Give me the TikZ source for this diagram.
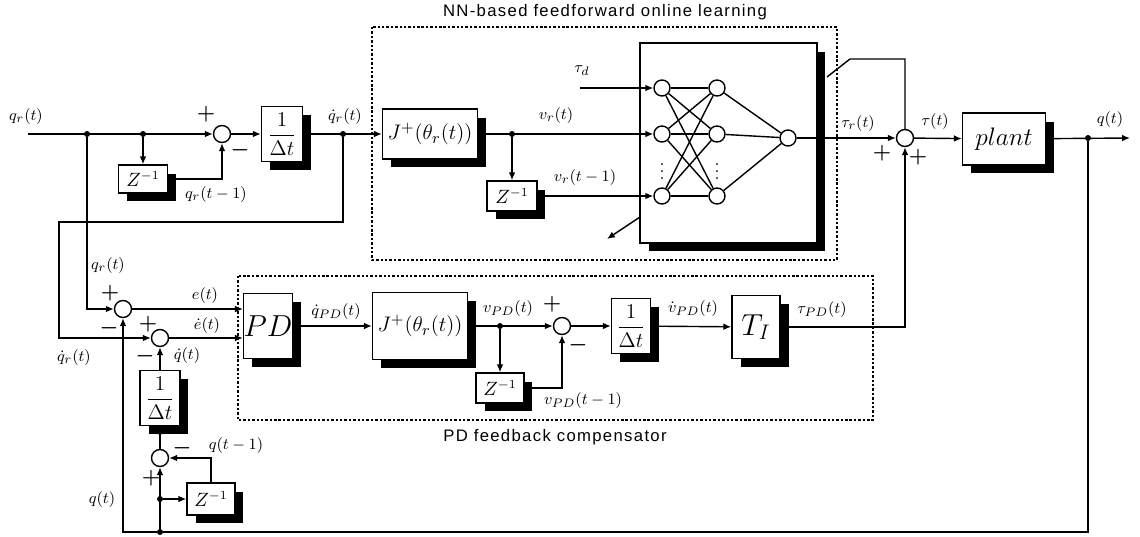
\documentclass[tikz,border=0pt]{standalone}
\usepackage{fontspec}
\newfontfamily\lblsans[LetterSpace=8]{Liberation Sans}
\usetikzlibrary{arrows.meta,shadows,calc}
\tikzset{
  blk/.style={draw, fill=white, line width=0.8pt, inner sep=0pt,
    drop shadow={shadow xshift=0.17cm, shadow yshift=-0.17cm, opacity=1, fill=black}},
  sumn/.style={draw, circle, fill=white, line width=0.8pt, minimum size=0.34cm, inner sep=0pt},
  neur/.style={draw, circle, fill=white, line width=0.8pt, minimum size=0.32cm, inner sep=0pt},
  jdot/.style={circle, fill=black, inner sep=0pt, minimum size=0.12cm},
  sig/.style={line width=0.8pt},
  arr/.style={sig, -{Latex[length=4.5pt,width=3.8pt]}},
  dbox/.style={line width=1.6pt, dash pattern=on 1.4pt off 1.1pt},
  lbl/.style={font=\fontsize{9.5}{11}\selectfont, inner sep=0pt},
  pm/.style={font=\fontsize{12}{12}\selectfont\boldmath, inner sep=0pt},
  ttl/.style={font=\fontsize{9.5}{11}\selectfont\lblsans, inner sep=0pt},
  zf/.style={font=\fontsize{10.5}{12}\selectfont},
  ff/.style={font=\fontsize{11.5}{13}\selectfont},
  jf/.style={font=\fontsize{12.5}{14}\selectfont},
}
\begin{document}
\begin{tikzpicture}[x=0.02cm,y=-0.02cm]
\useasboundingbox (0,0) rectangle (1140,537);

% dotted group boxes
\draw[dbox] (372,27) rectangle (837,260);
\draw[dbox] (238,276) rectangle (873,420);
\node[ttl] (ttlNN) at (605,12) {NN-based feedforward online learning};
\node[ttl] (ttlPD) at (555,437) {PD feedback compensator};

% ---------- top row ----------
\coordinate (qin) at (28,134);
\node[jdot] (d1) at (87,134) {};
\node[jdot] (d2) at (143,134) {};
\node[sumn] (s1) at (222,134) {};
\node[blk, zf, minimum width=0.98cm, minimum height=0.56cm] (z1) at (143,179) {$Z^{-1}$};
\node[blk, ff, minimum width=0.82cm, minimum height=1.1cm] (f1) at (282,134) {$\displaystyle\frac{1}{\Delta t}$};
\node[jdot] (d3) at (343,134) {};
\node[blk, jf, minimum width=1.9cm, minimum height=1.0cm] (J1) at (430,134) {$J^{+}(\theta_r(t))$};
\node[jdot] (d4) at (512,134) {};
\node[blk, zf, minimum width=1.0cm, minimum height=0.6cm] (z2) at (512,196) {$Z^{-1}$};

% NN box
\node[blk, minimum width=3.54cm, minimum height=4.0cm] (NN) at (728.5,143) {};
\node[neur] (i1) at (662,88) {};
\node[neur] (i2) at (662,134) {};
\node[neur] (i3) at (662,196) {};
\node[neur] (h1) at (717,88) {};
\node[neur] (h2) at (717,134) {};
\node[neur] (h3) at (717,196) {};
\node[neur] (o) at (788,138) {};
\node[font=\fontsize{10}{10}\selectfont, inner sep=0pt] (vd1) at (662,166) {$\vdots$};
\node[font=\fontsize{10}{10}\selectfont, inner sep=0pt] (vd2) at (717,166) {$\vdots$};
\foreach \a in {1,2,3}{\foreach \b in {1,2,3}{\draw[sig] (i\a) -- (h\b);}}
\foreach \b in {1,2,3}{\draw[sig] (h\b) -- (o);}

\node[sumn] (s2) at (905,138) {};
\node[blk, font=\fontsize{15}{17}\selectfont, minimum width=1.66cm, minimum height=1.04cm] (plant) at (1004,139) {$plant$};
\node[jdot] (d5) at (1088,138) {};
\coordinate (qout) at (1130,138);
\coordinate (td) at (580,88);
\coordinate (lc1) at (850,59);
\coordinate (lc2) at (827,77);
\coordinate (la1) at (640,217);
\coordinate (la2) at (607,239);

\draw[arr] (qin) -- (s1);
\draw[arr] (d2) -- (z1);
\draw[arr] (z1) -| (s1);
\draw[arr] (s1) -- (f1);
\draw[arr] (f1) -- (J1);
\draw[arr] (J1) -- (i2);
\draw[arr] (d4) -- (z2);
\draw[arr] (z2) -- (i3);
\draw[arr] (td) -- (i1);
\draw[arr] (o) -- (s2);
\draw[arr] (s2) -- (plant);
\draw[arr] (plant) -- (qout);
\draw[sig] (s2) |- (lc1) -- (lc2);
\draw[arr] (la1) -- (la2);

% ---------- PD row ----------
\node[sumn] (se) at (123,309) {};
\node[sumn] (sed) at (160,338) {};
\node[blk, font=\fontsize{16}{18}\selectfont, minimum width=0.92cm, minimum height=1.3cm] (PD) at (268,326) {$PD$};
\node[blk, jf, minimum width=1.9cm, minimum height=1.34cm] (J2) at (420,326) {$J^{+}(\theta_r(t))$};
\node[jdot] (d6) at (500,326) {};
\node[sumn] (s3) at (562,326) {};
\node[blk, zf, minimum width=0.96cm, minimum height=0.6cm] (z3) at (500,388) {$Z^{-1}$};
\node[blk, ff, minimum width=0.78cm, minimum height=1.1cm] (f2) at (631,326) {$\displaystyle\frac{1}{\Delta t}$};
\node[blk, font=\fontsize{17}{19}\selectfont, minimum width=0.96cm, minimum height=1.26cm] (TI) at (756,327) {$T_I$};
\coordinate (c1) at (59,222);

\draw[arr] (d3) |- (c1) |- (sed);
\draw[arr] (d1) |- (se);
\draw[arr] (se) -- (se -| PD.west);
\draw[arr] (sed) -- (sed -| PD.west);
\draw[arr] (PD) -- (J2);
\draw[arr] (J2) -- (s3);
\draw[arr] (d6) -- (z3);
\draw[arr] (z3) -| (s3);
\draw[arr] (s3) -- (f2);
\draw[arr] (f2) -- (TI);
\draw[arr] (TI) -| (s2);

% ---------- bottom-left ----------
\node[blk, ff, minimum width=0.8cm, minimum height=1.1cm] (f3) at (160,398) {$\displaystyle\frac{1}{\Delta t}$};
\node[sumn] (sq) at (160,458) {};
\node[blk, zf, minimum width=0.96cm, minimum height=0.64cm] (z4) at (211,499) {$Z^{-1}$};
\node[jdot] (d7) at (160,532) {};
\node[jdot] (d8) at (160,499) {};

\draw[arr] (f3) -- (sed);
\draw[arr] (sq) -- (f3);
\draw[arr] (z4) |- (sq);
\draw[arr] (d7) -- (sq);
\draw[arr] (d8) -- (z4);
\draw[arr] (d5) |- (d7) -| (se);

% ---------- labels ----------
\node[lbl] (l1) at (26,117) {$q_r(t)$};
\node[pm] (p1) at (206,114) {$+$};
\node[pm] (m1) at (240,150) {$-$};
\node[lbl] (l2) at (216,195) {$q_r(t-1)$};
\node[lbl] (l3) at (345,117) {$\dot{q}_r(t)$};
\node[lbl] (l4) at (556,116) {$v_r(t)$};
\node[lbl] (l5) at (585,178) {$v_r(t-1)$};
\node[lbl] (l6) at (582,71) {$\tau_d$};
\node[lbl] (l7) at (858,124) {$\tau_r(t)$};
\node[lbl] (l8) at (935,122) {$\tau(t)$};
\node[pm] (p2) at (882,153) {$+$};
\node[pm] (p3) at (918,157) {$+$};
\node[lbl] (l9) at (1110,120) {$q(t)$};
\node[lbl] (l10) at (108,266) {$q_r(t)$};
\node[pm] (p4) at (110,293) {$+$};
\node[pm] (m4) at (109,328) {$-$};
\node[lbl] (l11) at (205,296) {$e(t)$};
\node[lbl] (l12) at (207,326) {$\dot{e}(t)$};
\node[pm] (p5) at (148,324) {$+$};
\node[pm] (m5) at (145,356) {$-$};
\node[lbl] (l13) at (74,358) {$\dot{q}_r(t)$};
\node[lbl] (l14) at (187,356) {$\dot{q}(t)$};
\node[pm] (m6) at (182,448) {$-$};
\node[lbl] (l15) at (236,446) {$q(t-1)$};
\node[pm] (p6) at (151,478) {$+$};
\node[lbl] (l16) at (102,500) {$q(t)$};
\node[lbl] (l17) at (336,312) {$\dot{q}_{PD}(t)$};
\node[lbl] (l18) at (508,309) {$v_{PD}(t)$};
\node[pm] (p7) at (552,304) {$+$};
\node[pm] (m7) at (578,345) {$-$};
\node[lbl] (l19) at (583,401) {$v_{PD}(t-1)$};
\node[lbl] (l20) at (693,309) {$\dot{v}_{PD}(t)$};
\node[lbl] (l21) at (822,310) {$\tau_{PD}(t)$};
\end{tikzpicture}
\end{document}
